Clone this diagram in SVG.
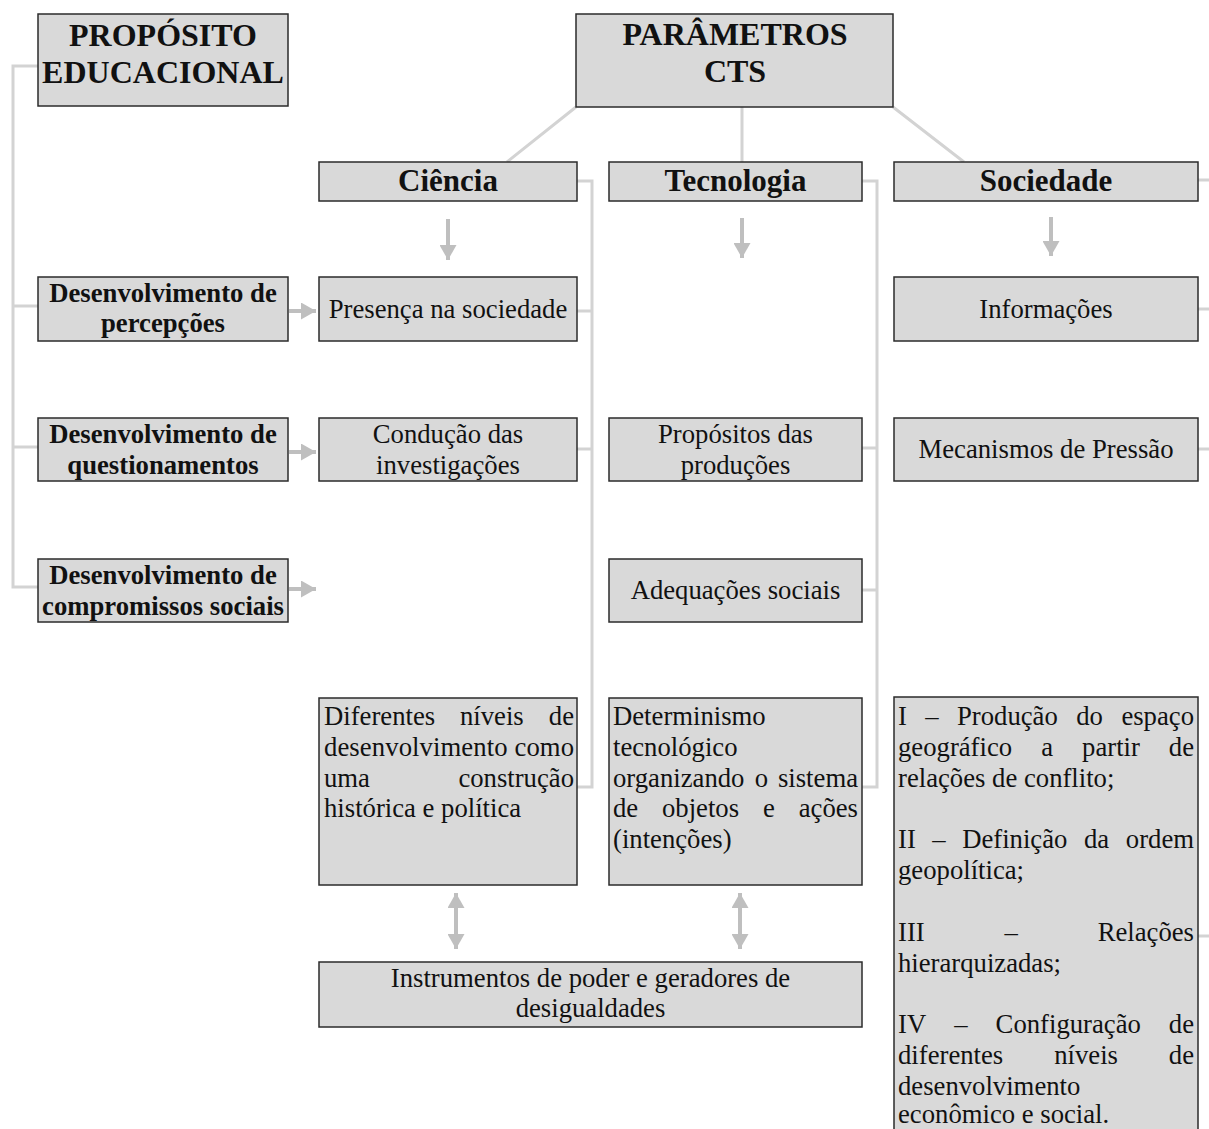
<svg xmlns="http://www.w3.org/2000/svg" width="1209" height="1129" viewBox="0 0 1209 1129">
<style>
.box{fill:#d9d9d9;stroke:#2b2b2b;stroke-width:1.5}
.t{font-family:"Liberation Serif","Times New Roman",serif;font-size:26.7px;fill:#111}
.b{font-weight:bold}
.big{font-size:32px;font-weight:bold}
.hdr{font-size:31px;font-weight:bold}
.c{text-anchor:middle}
.e{text-anchor:end}
.link{fill:none;stroke:#d3d3d3;stroke-width:3}
.arr{fill:none;stroke:#bfbfbf;stroke-width:4}
</style>
<defs>
<marker id="ah" markerUnits="userSpaceOnUse" markerWidth="15" markerHeight="17" refX="15" refY="8.5" orient="auto-start-reverse" viewBox="0 0 15 17">
<path d="M0,0 L15,8.5 L0,17 Z" fill="#bfbfbf"/>
</marker>
</defs>
<rect width="1209" height="1129" fill="#ffffff"/>
<g id="connectors">
<path class="link" d="M38,66 H13 V587 H38 M13,306 H38 M13,447 H38"/>
<path class="link" d="M576,107 L507,162 M742,107 V162 M893,107 L964,162"/>
<path class="link" d="M577,181 H592 V787 H577 M577,311 H592 M577,449 H592"/>
<path class="link" d="M862,181 H877 V787 H862 M862,448 H877 M862,590 H877"/>
<path class="link" d="M1198,180 H1214 V936 H1198 M1198,309 H1214 M1198,449 H1214"/>
<line class="arr" x1="448" y1="219" x2="448" y2="260" marker-end="url(#ah)"/>
<line class="arr" x1="742" y1="218" x2="742" y2="258" marker-end="url(#ah)"/>
<line class="arr" x1="1051" y1="217" x2="1051" y2="256" marker-end="url(#ah)"/>
<line class="arr" x1="289" y1="311" x2="316" y2="311" marker-end="url(#ah)"/>
<line class="arr" x1="289" y1="452" x2="316" y2="452" marker-end="url(#ah)"/>
<line class="arr" x1="289" y1="589" x2="316" y2="589" marker-end="url(#ah)"/>
<line class="arr" x1="456" y1="893" x2="456" y2="949" marker-start="url(#ah)" marker-end="url(#ah)"/>
<line class="arr" x1="740" y1="893" x2="740" y2="949" marker-start="url(#ah)" marker-end="url(#ah)"/>
</g>
<g id="proposito">
<rect class="box" x="38" y="14" width="250" height="92"/>
<text class="t big c" x="163" y="45.5">PROPÓSITO</text>
<text class="t big c" x="163" y="82.5">EDUCACIONAL</text>
</g>
<g id="parametros">
<rect class="box" x="576" y="14" width="317" height="93"/>
<text class="t big c" x="735" y="45">PARÂMETROS</text>
<text class="t big c" x="735" y="82">CTS</text>
</g>
<g id="ciencia">
<rect class="box" x="319" y="162" width="258" height="39"/>
<text class="t hdr c" x="448" y="191">Ciência</text>
</g>
<g id="tecnologia">
<rect class="box" x="609" y="162" width="253" height="39"/>
<text class="t hdr c" x="735.5" y="191">Tecnologia</text>
</g>
<g id="sociedade">
<rect class="box" x="894" y="162" width="304" height="39"/>
<text class="t hdr c" x="1046" y="191">Sociedade</text>
</g>
<g id="dev-percepcoes">
<rect class="box" x="38" y="277" width="250" height="64"/>
<text class="t b c" x="163" y="302">Desenvolvimento de</text>
<text class="t b c" x="163" y="332">percepções</text>
</g>
<g id="presenca">
<rect class="box" x="319" y="277" width="258" height="64"/>
<text class="t c" x="448" y="318">Presença na sociedade</text>
</g>
<g id="informacoes">
<rect class="box" x="894" y="277" width="304" height="64"/>
<text class="t c" x="1046" y="318">Informações</text>
</g>
<g id="dev-questionamentos">
<rect class="box" x="38" y="418" width="250" height="63"/>
<text class="t b c" x="163" y="443">Desenvolvimento de</text>
<text class="t b c" x="163" y="474">questionamentos</text>
</g>
<g id="conducao">
<rect class="box" x="319" y="418" width="258" height="63"/>
<text class="t c" x="448" y="443">Condução das</text>
<text class="t c" x="448" y="474">investigações</text>
</g>
<g id="propositos">
<rect class="box" x="609" y="418" width="253" height="63"/>
<text class="t c" x="735.5" y="443">Propósitos das</text>
<text class="t c" x="735.5" y="474">produções</text>
</g>
<g id="mecanismos">
<rect class="box" x="894" y="418" width="304" height="63"/>
<text class="t c" x="1046" y="458">Mecanismos de Pressão</text>
</g>
<g id="dev-compromissos">
<rect class="box" x="38" y="559" width="250" height="63"/>
<text class="t b c" x="163" y="584">Desenvolvimento de</text>
<text class="t b c" x="163" y="615">compromissos sociais</text>
</g>
<g id="adequacoes">
<rect class="box" x="609" y="559" width="253" height="63"/>
<text class="t c" x="735.5" y="599">Adequações sociais</text>
</g>
<g id="diferentes">
<rect class="box" x="319" y="698" width="258" height="187"/>
<text class="t" x="324" y="725">Diferentes</text>
<text class="t" x="460" y="725">níveis</text>
<text class="t e" x="574" y="725">de</text>
<text class="t" x="324" y="756" textLength="250" lengthAdjust="spacing">desenvolvimento como</text>
<text class="t" x="324" y="787">uma</text>
<text class="t e" x="574" y="787">construção</text>
<text class="t" x="324" y="817">histórica e política</text>
</g>
<g id="determinismo">
<rect class="box" x="609" y="698" width="253" height="187"/>
<text class="t" x="613" y="725">Determinismo</text>
<text class="t" x="613" y="756">tecnológico</text>
<text class="t" x="613" y="787">organizando</text>
<text class="t" x="754.7" y="787">o</text>
<text class="t e" x="858" y="787">sistema</text>
<text class="t" x="613" y="817">de</text>
<text class="t" x="662" y="817">objetos</text>
<text class="t" x="763" y="817">e</text>
<text class="t e" x="858" y="817">ações</text>
<text class="t" x="613" y="848">(intenções)</text>
</g>
<g id="sociedade-lista">
<rect class="box" x="894" y="697" width="304" height="445"/>
<text class="t" x="898" y="724.5">I</text>
<text class="t" x="925.3" y="724.5">–</text>
<text class="t" x="957" y="724.5">Produção</text>
<text class="t" x="1076.2" y="724.5">do</text>
<text class="t e" x="1194" y="724.5">espaço</text>
<text class="t" x="898" y="755.5">geográfico</text>
<text class="t" x="1041.2" y="755.5">a</text>
<text class="t" x="1082.1" y="755.5">partir</text>
<text class="t e" x="1194" y="755.5">de</text>
<text class="t" x="898" y="786.5">relações de conflito;</text>
<text class="t" x="898" y="848">II</text>
<text class="t" x="932.3" y="848">–</text>
<text class="t" x="962.2" y="848">Definição</text>
<text class="t" x="1084" y="848">da</text>
<text class="t e" x="1194" y="848">ordem</text>
<text class="t" x="898" y="879">geopolítica;</text>
<text class="t" x="898" y="940.5">III</text>
<text class="t" x="1004.5" y="940.5">–</text>
<text class="t e" x="1194" y="940.5">Relações</text>
<text class="t" x="898" y="971.5">hierarquizadas;</text>
<text class="t" x="898" y="1033">IV</text>
<text class="t" x="954.2" y="1033">–</text>
<text class="t" x="995.6" y="1033">Configuração</text>
<text class="t e" x="1194" y="1033">de</text>
<text class="t" x="898" y="1064">diferentes</text>
<text class="t" x="1054.2" y="1064">níveis</text>
<text class="t e" x="1194" y="1064">de</text>
<text class="t" x="898" y="1094.5">desenvolvimento</text>
<text class="t" x="898" y="1122.5">econômico e social.</text>
</g>
<g id="instrumentos">
<rect class="box" x="319" y="962" width="543" height="65"/>
<text class="t c" x="590.5" y="987">Instrumentos de poder e geradores de</text>
<text class="t c" x="590.5" y="1017">desigualdades</text>
</g>
</svg>
